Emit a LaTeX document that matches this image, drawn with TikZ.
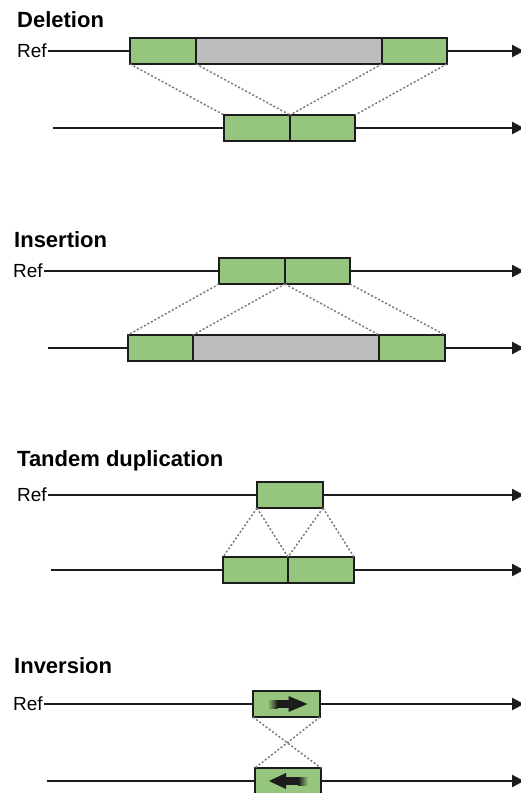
\documentclass[tikz,border=0pt]{standalone}
\usepackage{fontspec}
\setmainfont{Liberation Sans}
\usetikzlibrary{arrows.meta,positioning}
\definecolor{SegFill}{HTML}{96C67E}
\definecolor{GapFill}{HTML}{BDBDBD}
\definecolor{Edge}{HTML}{1C1C1C}
\definecolor{MapLine}{HTML}{7A7A7A}
\tikzset{
  blk/.style={rectangle, draw=Edge, line width=2.6pt, inner sep=0pt, outer sep=0pt,
              minimum height=26pt},
  seg/.style={blk, fill=SegFill},
  gap/.style={blk, fill=GapFill},
  bb/.style={draw=Edge, line width=2.4pt},
  bbend/.style={bb, -{Triangle[length=12pt,width=12pt]}},
  map/.style={draw=MapLine, line width=1.5pt, dash pattern=on 2pt off 2pt},
  ttl/.style={font=\fontsize{22}{25}\selectfont\bfseries, anchor=base west, inner sep=0pt},
  reflab/.style={font=\fontsize{19}{22}\selectfont, anchor=west, inner sep=1pt},
}

\begin{document}
\begin{tikzpicture}[x=1pt, y=-1pt]
\useasboundingbox (0,0) rectangle (520,793);

% ======================= deletion ===================================================
\node[ttl] (gDel) at (17,27) {Deletion};
\node[reflab] (rDel) at (16,51) {Ref};
\node[seg, minimum width=66pt, anchor=west] (d1) at (130,51) {};
\node[gap, minimum width=186pt, anchor=west] (d2) at (d1.east) {};
\node[seg, minimum width=65pt, anchor=west] (d3) at (d2.east) {};
\coordinate (eDel) at (524,51);
\coordinate (sDel) at (53,128);
\node[seg, minimum width=66pt, anchor=west] (d4) at (224,128) {};
\node[seg, minimum width=65pt, anchor=west] (d5) at (d4.east) {};
\coordinate (fDel) at (524,128);
\draw[bb] (rDel) -- (d1); \draw[bbend] (d3) -- (eDel);
\draw[bb] (sDel) -- (d4); \draw[bbend] (d5) -- (fDel);
\draw[map] (d1.south west) -- (d4.north west);
\draw[map] (d1.south east) -- (d4.north east);
\draw[map] (d3.south west) -- (d5.north west);
\draw[map] (d3.south east) -- (d5.north east);

% ======================= insertion ==================================================
\node[ttl] (gIns) at (14,247) {Insertion};
\node[reflab] (rIns) at (12,271) {Ref};
\node[seg, minimum width=66pt, anchor=west] (i1) at (219,271) {};
\node[seg, minimum width=65pt, anchor=west] (i2) at (i1.east) {};
\coordinate (eIns) at (524,271);
\coordinate (sIns) at (48,348);
\node[seg, minimum width=65pt, anchor=west] (i3) at (128,348) {};
\node[gap, minimum width=186pt, anchor=west] (i4) at (i3.east) {};
\node[seg, minimum width=66pt, anchor=west] (i5) at (i4.east) {};
\coordinate (fIns) at (524,348);
\draw[bb] (rIns) -- (i1); \draw[bbend] (i2) -- (eIns);
\draw[bb] (sIns) -- (i3); \draw[bbend] (i5) -- (fIns);
\draw[map] (i1.south west) -- (i3.north west);
\draw[map] (i1.south east) -- (i3.north east);
\draw[map] (i2.south west) -- (i5.north west);
\draw[map] (i2.south east) -- (i5.north east);

% ======================= tandem duplication =========================================
\node[ttl] (gTan) at (17,466) {Tandem duplication};
\node[reflab] (rTan) at (16,495) {Ref};
\node[seg, minimum width=66pt, anchor=west] (t1) at (257,495) {};
\coordinate (eTan) at (524,495);
\coordinate (sTan) at (51,570);
\node[seg, minimum width=65pt, anchor=west] (t2) at (223,570) {};
\node[seg, minimum width=66pt, anchor=west] (t3) at (t2.east) {};
\coordinate (fTan) at (524,570);
\draw[bb] (rTan) -- (t1); \draw[bbend] (t1) -- (eTan);
\draw[bb] (sTan) -- (t2); \draw[bbend] (t3) -- (fTan);
\draw[map] (t1.south west) -- (t2.north west);
\draw[map] (t1.south west) -- (t2.north east);
\draw[map] (t1.south east) -- (t3.north west);
\draw[map] (t1.south east) -- (t3.north east);

% ======================= inversion ==================================================
\node[ttl] (gInv) at (14,673) {Inversion};
\node[reflab] (rInv) at (12,704) {Ref};
\node[seg, minimum width=67pt, anchor=west] (v1) at (253,704) {};
\coordinate (eInv) at (524,704);
\coordinate (sInv) at (47,781);
\node[seg, minimum width=66pt, anchor=west] (v2) at (255,781) {};
\coordinate (fInv) at (524,781);
\draw[bb] (rInv) -- (v1); \draw[bbend] (v1) -- (eInv);
\draw[bb] (sInv) -- (v2); \draw[bbend] (v2) -- (fInv);
\draw[map] (v1.south west) -- (v2.north east);
\draw[map] (v1.south east) -- (v2.north west);
% orientation arrows inside the inverted block
\begin{scope}[shift={(v1.center)}]
  \shade[left color=SegFill, right color=Edge] (-19,-4) rectangle (-9,4);
  \fill[Edge] (-9.2,-4) rectangle (3,4);
  \fill[Edge] (2,-8) -- (21,0) -- (2,8) -- cycle;
\end{scope}
\begin{scope}[shift={(v2.center)}]
  \shade[left color=Edge, right color=SegFill] (10,-4) rectangle (20,4);
  \fill[Edge] (-3,-4) rectangle (10.2,4);
  \fill[Edge] (-2,-8) -- (-19,0) -- (-2,8) -- cycle;
\end{scope}

\end{tikzpicture}
\end{document}
